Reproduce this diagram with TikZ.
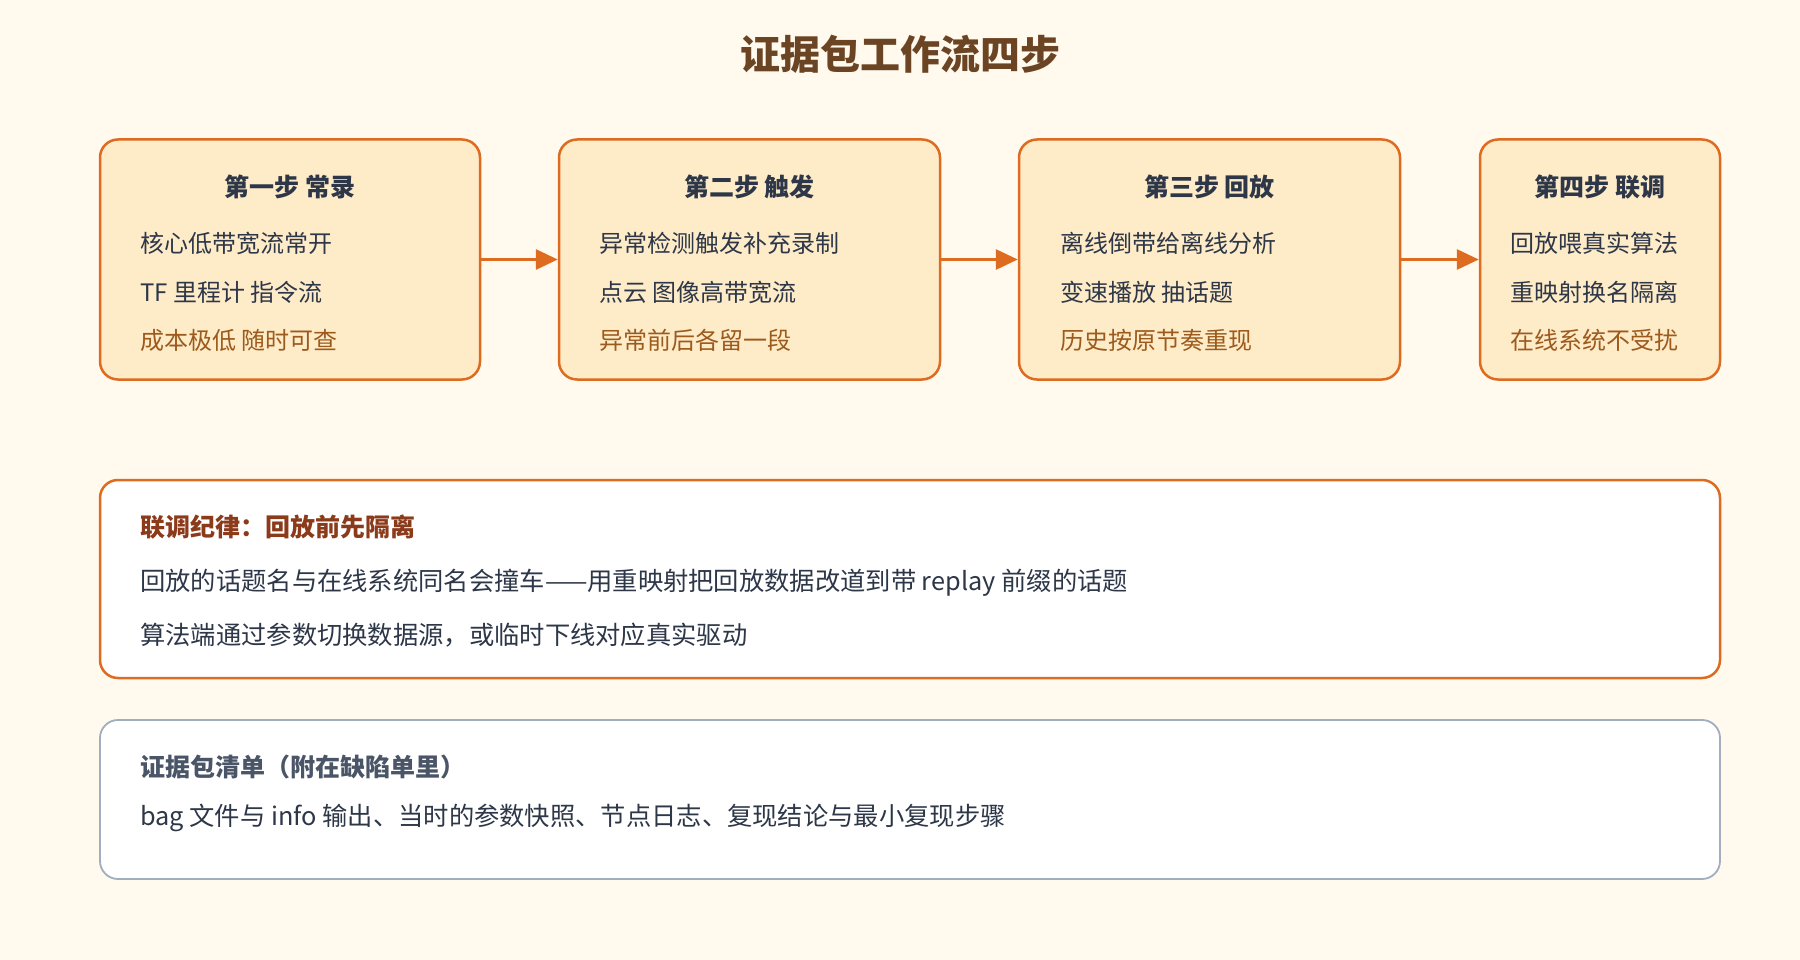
\documentclass[tikz,border=0pt]{standalone}
\usepackage{fontspec}
\setmainfont{Noto Sans CJK SC}
\usetikzlibrary{arrows.meta,positioning}

\definecolor{bgcream}{HTML}{FFF9EE}
\definecolor{cardfill}{HTML}{FEEBC8}
\definecolor{cardline}{HTML}{DD6B20}
\definecolor{slateline}{HTML}{A0AEC0}
\definecolor{inktext}{HTML}{2D3748}
\definecolor{graytext}{HTML}{4A5568}
\definecolor{notebrown}{HTML}{9C5A1C}
\definecolor{titlebrown}{HTML}{6B4423}
\definecolor{rulered}{HTML}{8B3A1A}

\begin{document}
\begin{tikzpicture}[x=1pt,y=-1pt,
    card/.style={draw=cardline, fill=cardfill, line width=2.5pt,
                 rounded corners=18pt, inner sep=0pt},
    panel/.style={rounded corners=18pt, inner sep=0pt, fill=white},
    head/.style={font=\bfseries\fontsize{25}{30}\selectfont, text=inktext, inner sep=0pt},
    item/.style={font=\fontsize{24}{30}\selectfont, text=inktext, anchor=west, inner sep=0pt},
    wide/.style={item, font=\fontsize{25.3}{30}\selectfont},
    flow/.style={draw=cardline, line width=3pt, -{Triangle[length=22pt,width=20pt]}}]
  \fill[bgcream] (0,0) rectangle (1800,960);
  \node[font=\bfseries\fontsize{40}{48}\selectfont, text=titlebrown] (title) at (900,54) {证据包工作流四步};

  % vier Schritte
  \node[card, minimum width=380pt, minimum height=240pt] (s1) at (290,259.5) {};
  \node[card, minimum width=381pt, minimum height=240pt] (s2) at (749.5,259.5) {};
  \node[card, minimum width=381pt, minimum height=240pt] (s3) at (1209.5,259.5) {};
  \node[card, minimum width=240pt, minimum height=240pt] (s4) at (1600,259.5) {};

  \node[head] (h1) at (290,187) {第一步 常录};
  \node[head] (h2) at (749.5,187) {第二步 触发};
  \node[head] (h3) at (1209.5,187) {第三步 回放};
  \node[head] (h4) at (1600,187) {第四步 联调};

  \node[item] (a1) at (140,243) {核心低带宽流常开};
  \node[item] (b1) at (140,292) {TF 里程计 指令流};
  \node[item, text=notebrown] (c1) at (140,340) {成本极低 随时可查};
  \node[item] (a2) at (599,243) {异常检测触发补充录制};
  \node[item] (b2) at (599,292) {点云 图像高带宽流};
  \node[item, text=notebrown] (c2) at (599,340) {异常前后各留一段};
  \node[item] (a3) at (1060,243) {离线倒带给离线分析};
  \node[item] (b3) at (1060,292) {变速播放 抽话题};
  \node[item, text=notebrown] (c3) at (1060,340) {历史按原节奏重现};
  \node[item] (a4) at (1510,243) {回放喂真实算法};
  \node[item] (b4) at (1510,292) {重映射换名隔离};
  \node[item, text=notebrown] (c4) at (1510,340) {在线系统不受扰};

  \draw[flow] (s1.east) -- (s2.west);
  \draw[flow] (s2.east) -- (s3.west);
  \draw[flow] (s3.east) -- (s4.west);

  % Regel und Liste
  \node[panel, draw=cardline, line width=2.5pt, minimum width=1620pt, minimum height=198pt] (rule) at (910,579) {};
  \node[item, font=\bfseries\fontsize{25}{30}\selectfont, text=rulered] (ruleh) at (140,527) {联调纪律：回放前先隔离};
  \node[wide] (rule1) at (140,583) {回放的话题名与在线系统同名会撞车——用重映射把回放数据改道到带 replay 前缀的话题};
  \node[wide] (rule2) at (140,635) {算法端通过参数切换数据源，或临时下线对应真实驱动};

  \node[panel, draw=slateline, line width=1.8pt, minimum width=1620pt, minimum height=159pt] (list) at (910,799.5) {};
  \node[item, font=\bfseries\fontsize{25}{30}\selectfont, text=graytext] (listh) at (140,767) {证据包清单（附在缺陷单里）};
  \node[wide] (list1) at (140,818) {bag 文件与 info 输出、当时的参数快照、节点日志、复现结论与最小复现步骤};
\end{tikzpicture}
\end{document}
